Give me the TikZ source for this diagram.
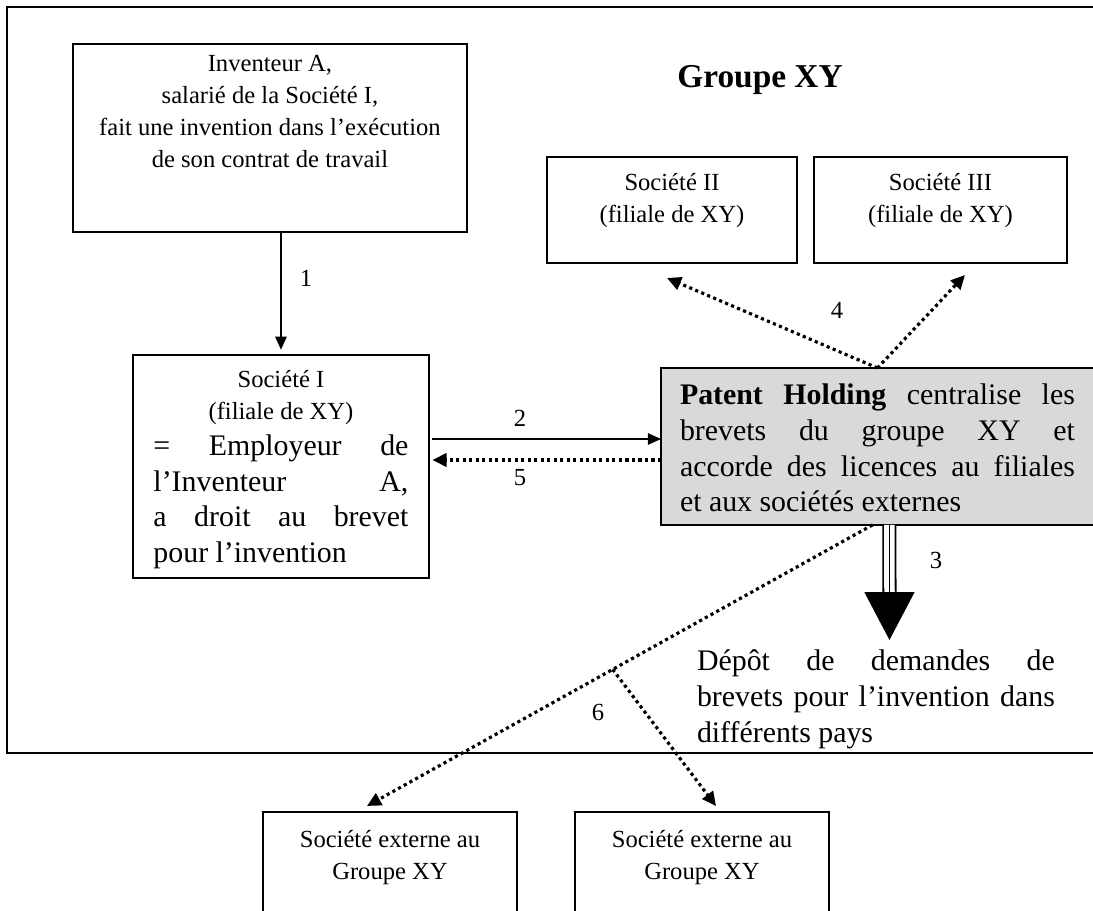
\documentclass[tikz,border=0pt]{standalone}
\usepackage{fontspec}
\setmainfont{Liberation Serif}
\usetikzlibrary{arrows.meta,calc}
\newcommand{\petit}{\fontsize{14}{18.2}\selectfont}
\newcommand{\grand}{\fontsize{17}{20.3}\selectfont}
% contenu d'un cadre : largeur, hauteur, hauteur de la premiere ligne, texte
\newcommand{\cadre}[4]{\parbox[c][#2][t]{#1}{\centering\rule{0pt}{#3}#4}}
\begin{document}
\begin{tikzpicture}[x=0.02cm,y=-0.02cm,inner sep=0pt,outer sep=0pt,
bloc/.style={draw,rectangle,line width=1.3pt,font=\petit},
fleche/.style={-{Triangle[length=7.5pt,width=6.5pt]},line width=1pt},
pointille/.style={-{Triangle[length=8pt,width=7.5pt]},line width=1.8pt,dash pattern=on 1.8pt off 1.9pt},
chiffre/.style={font=\petit}]
\useasboundingbox (0,0) rectangle (1093,911);
\clip (0,0) rectangle (1093,911);
% cadre du groupe
\draw[line width=1.2pt] (1110,7) -- (7,7) -- (7,753) -- (1110,753);
\node[font=\bfseries\fontsize{19}{23}\selectfont] (titre) at (760,80) {Groupe XY};
% blocs
\node[bloc,anchor=north west] (inv) at (73,44) {\cadre{7.88cm}{3.76cm}{0.56cm}{Inventeur A,\\ salarié de la Société I,\\ fait une invention dans l’exécution\\ de son contrat de travail}};
\node[bloc,anchor=north west] (soc1) at (133,355) {\parbox[c][4.46cm][t]{5.92cm}{\centering\rule{0pt}{0.66cm}Société I\\ (filiale de XY)\par
\grand\makebox[5.1cm][s]{= Employeur de}\\ \makebox[5.1cm][s]{l’Inventeur A,}\\ \makebox[5.1cm][s]{a droit au brevet}\\ \makebox[5.1cm][l]{pour l’invention}\par}};
\node[bloc,anchor=north west] (soc2) at (547,157) {\cadre{5cm}{2.12cm}{0.68cm}{Société II\\ (filiale de XY)}};
\node[bloc,anchor=north west] (soc3) at (814,157) {\cadre{5.06cm}{2.12cm}{0.68cm}{Société III\\ (filiale de XY)}};
\node[bloc,anchor=north west,fill=gray!30] (hold) at (661,368) {\parbox[c][3.14cm][t]{8.66cm}{\leftskip=0.38cm\grand\rule{0pt}{0.74cm}\makebox[7.9cm][s]{\textbf{Patent Holding} centralise les}\\ \makebox[7.9cm][s]{brevets du groupe XY et}\\ \makebox[7.9cm][s]{accorde des licences au filiales}\\ \makebox[7.9cm][l]{et aux sociétés externes}\par}};
\node[anchor=north west,font=\grand] (depot) at (697,640) {\parbox[t]{7.16cm}{\rule{0pt}{0.62cm}\makebox[7.16cm][s]{Dépôt de demandes de}\\ \makebox[7.16cm][s]{brevets pour l’invention dans}\\ différents pays}};
\node[bloc,anchor=north west] (ext1) at (263,812) {\cadre{5.08cm}{2.6cm}{0.72cm}{Société externe au\\ Groupe XY}};
\node[bloc,anchor=north west] (ext2) at (575,812) {\cadre{5.08cm}{2.6cm}{0.72cm}{Société externe au\\ Groupe XY}};
% points libres
\coordinate (y2) at (0,439);
\coordinate (y5) at (0,460);
\coordinate (t4a) at (667,278);
\coordinate (t4b) at (965,275);
\coordinate (p6) at ([xshift=-0.1cm]hold.south);
\coordinate (t6a) at (367,806);
\coordinate (b6) at ($(p6)!0.514!(t6a)$);
\coordinate (t6b) at (716,806);
\coordinate (p3) at ([xshift=0.24cm]hold.south);
\coordinate (b3) at (889.5,600);
% fleches
\draw[fleche,shorten >=3pt] (inv.south -| soc1.north) -- (soc1.north);
\draw[fleche,shorten <=2pt] (soc1.east |- y2) -- (hold.west |- y2);
\draw[pointille,shorten >=2pt] (hold.west |- y5) -- (soc1.east |- y5);
\draw[pointille] (hold.north) -- (t4a);
\draw[pointille] (hold.north) -- (t4b);
\draw[pointille] (p6) -- (t6a);
\draw[pointille] (b6) -- (t6b);
\draw[line width=1pt,double distance=0.21cm] (p3) -- (b3);
\draw[line width=1pt,-{Triangle[length=0.96cm,width=1cm]}] (p3) -- (p3 |- depot.north);
% numeros
\node[chiffre] (n1) at (306,278) {1};
\node[chiffre] (n2) at (520,418) {2};
\node[chiffre] (n5) at (520,478) {5};
\node[chiffre] (n4) at (837,310) {4};
\node[chiffre] (n3) at (936,560) {3};
\node[chiffre] (n6) at (598,712) {6};
\end{tikzpicture}
\end{document}
